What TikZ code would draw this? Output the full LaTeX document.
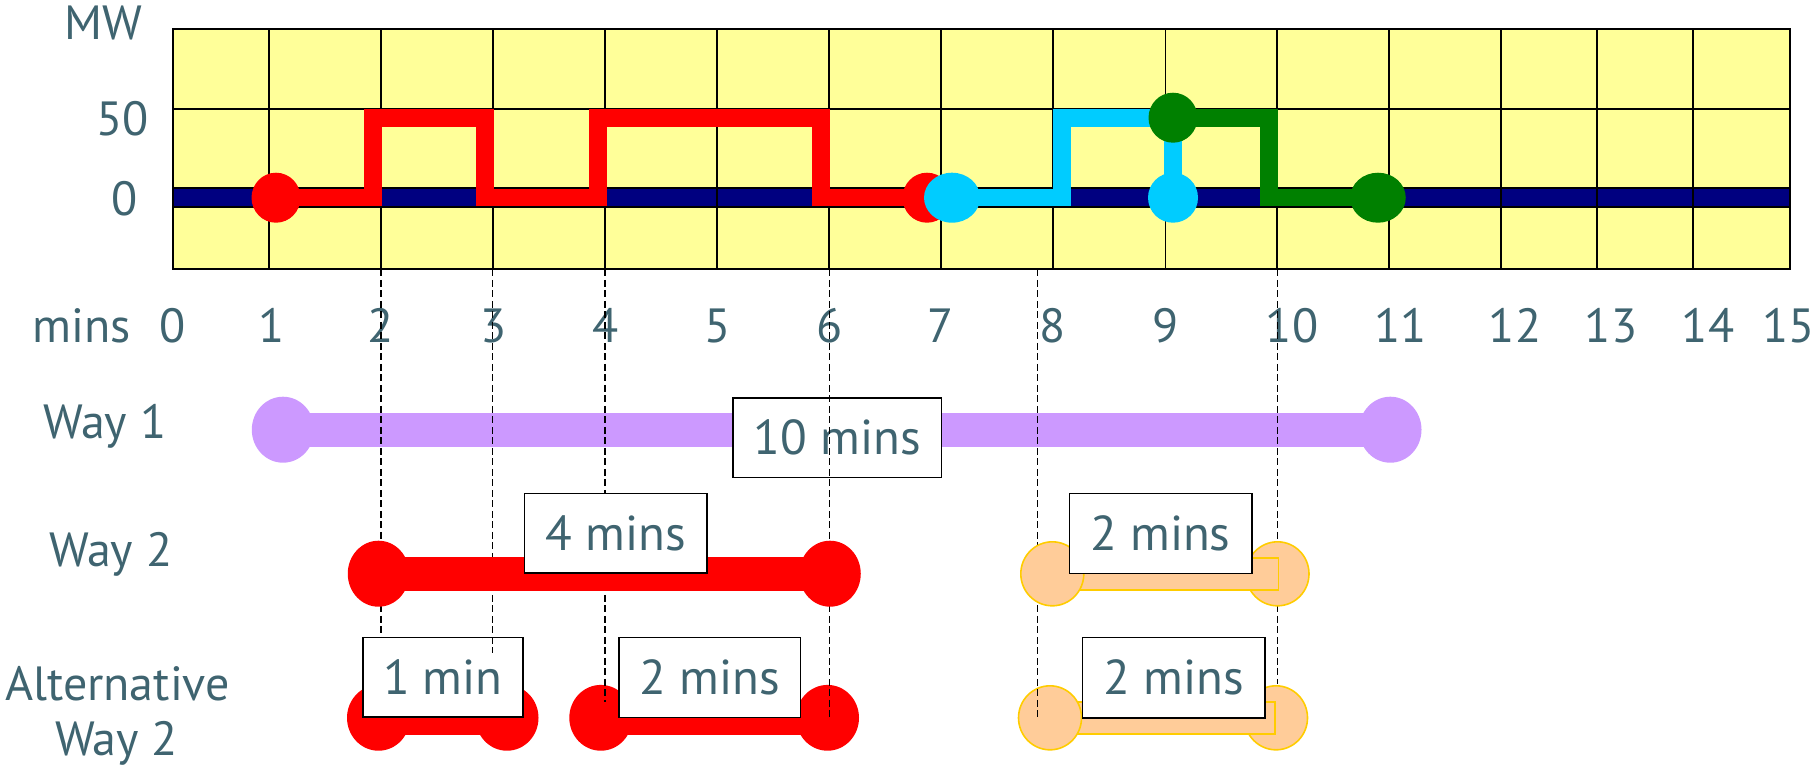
\documentclass[tikz,border=0pt]{standalone}
\usepackage{fontspec}
\setmainfont{PT Sans}
\usepackage{tikz}
\usetikzlibrary{shapes.geometric}
\definecolor{gridfill}{HTML}{FFFF99}
\definecolor{baseband}{HTML}{000080}
\definecolor{loadred}{HTML}{FF0000}
\definecolor{loadcyan}{HTML}{00CCFF}
\definecolor{loadgreen}{HTML}{008000}
\definecolor{lilac}{HTML}{CC99FF}
\definecolor{peach}{HTML}{FFCC99}
\definecolor{gold}{HTML}{FFCC00}
\definecolor{slate}{HTML}{3F6470}

\tikzset{
  lbl/.style={text=slate,font=\fontsize{24}{28}\selectfont,inner sep=0pt,anchor=base},
  minsbox/.style={draw=black,fill=white,line width=0.8pt,inner sep=0pt,text=slate,
    font=\fontsize{24.5}{28}\selectfont},
  dot/.style={ellipse,inner sep=0pt,draw=none},
  peachdot/.style={ellipse,inner sep=0pt,fill=peach,draw=gold,line width=0.8pt,
    minimum width=31.5pt,minimum height=32pt},
  guide/.style={black,line width=0.75pt,dash pattern=on 3.5pt off 1.75pt},
  loadline/.style={line width=8.75pt,line join=miter},
  waybar/.style={line width=17pt},
}

\begin{document}
\begin{tikzpicture}[x=0.5pt,y=-0.5pt]
\useasboundingbox (0,0) rectangle (1813,772);

% grid
\fill[gridfill] (172.8,29.3) rectangle (1790.3,269.3);
\fill[baseband] (172.8,188.3) rectangle (1790.3,206.7);
\foreach \x in {268.9,380.8,492.7,605,716.6,829.3,940.8,1053.1,1165.4,1277,1389.2,1501,1597,1693.3}
  \draw[line width=0.9pt] (\x,29.3) -- (\x,269.3);
\foreach \y in {109.3,188.3,206.7}
  \draw[line width=0.9pt] (172.8,\y) -- (1790.3,\y);
\draw[line width=1.1pt] (172.8,29.3) rectangle (1790.3,269.3);

% axis labels
\node[lbl] (mw) at (103.5,39.3) {MW};
\node[lbl] (y50) at (122.5,135) {50};
\node[lbl] (y0) at (125,215) {0};
\node[lbl] (mins) at (82,342.7) {mins};
\foreach \x/\t in {172.6/0,272/1,380.6/2,493.8/3,606/4,718/5,830/6,941/7,1053/8,1166/9,
  1292/10,1400.6/11,1515/12,1611/13,1708/14,1788.6/15}
  \node[lbl] (tick\t) at (\x,342.7) {\t};

% load profile
\draw[loadline,loadred] (276,197.5) -- (373,197.5) -- (373,118) -- (485,118) -- (485,197.5)
  -- (598,197.5) -- (598,118) -- (821,118) -- (821,197.5) -- (927,197.5);
\node[dot,fill=loadred,minimum width=24.5pt,minimum height=25pt] (r0) at (276,197.7) {};
\node[dot,fill=loadred,minimum width=24.5pt,minimum height=25pt] (r1) at (927,197.7) {};
\draw[loadline,loadcyan] (952,197.5) -- (1062,197.5) -- (1062,118) -- (1173,118) -- (1173,197.5);
\node[dot,fill=loadcyan,minimum width=28pt,minimum height=25pt] (c0) at (952,197.7) {};
\node[dot,fill=loadcyan,minimum width=25pt,minimum height=25pt] (c1) at (1173,197.7) {};
\draw[loadline,loadgreen] (1173,118) -- (1269,118) -- (1269,197.5) -- (1378,197.5);
\node[dot,fill=loadgreen,minimum width=24.5pt,minimum height=25pt] (g0) at (1173,117.7) {};
\node[dot,fill=loadgreen,minimum width=27.75pt,minimum height=25pt] (g1) at (1378,197.7) {};

% row labels
\node[lbl] (way1) at (104.8,438.3) {Way 1};
\node[lbl] (way2) at (110.7,566.7) {Way 2};
\node[lbl] (alt) at (117.5,700) {Alternative};
\node[lbl] (altway) at (116.5,755) {Way 2};

% way 1
\coordinate (w1a) at (283,429.7);
\coordinate (w1b) at (1390.3,429.7);
\draw[waybar,lilac] (w1a) -- (w1b);
\node[dot,fill=lilac,minimum width=31.2pt,minimum height=33pt] (w1l) at (w1a) {};
\node[dot,fill=lilac,minimum width=31.2pt,minimum height=33pt] (w1r) at (w1b) {};
\node[minsbox,minimum width=104.25pt,minimum height=39.8pt] (b10) at (837.3,437.5) {10 mins};

% alternative way 2
\coordinate (a1a) at (378.5,717.8);
\coordinate (a1b) at (507,717.8);
\coordinate (a2a) at (600.8,717.8);
\coordinate (a2b) at (827.5,717.8);
\draw[waybar,loadred] (a1a) -- (a1b);
\draw[waybar,loadred] (a2a) -- (a2b);
\foreach \p in {a1a,a1b,a2a,a2b}
  \node[dot,fill=loadred,minimum width=31.5pt,minimum height=32.9pt] (\p dot) at (\p) {};
\node[minsbox,minimum width=79.85pt,minimum height=39.7pt] (b1) at (442.9,677) {1 min};
\node[minsbox,minimum width=90.85pt,minimum height=39.9pt] (b2r) at (709.8,677.4) {2 mins};
\node[peachdot] (o2r) at (1276,717.8) {};
\draw[fill=peach,draw=gold,line width=0.8pt] (1050,701.7) rectangle (1275,734);
\node[peachdot] (o2l) at (1050,717.8) {};
\node[minsbox,minimum width=91.15pt,minimum height=40.2pt] (b2p) at (1173.8,677.5) {2 mins};

% guide lines
\foreach \x/\y in {380.8/637,492.7/653,605/701.7,829.3/718,1037.3/718,1277.3/684}
  \draw[guide] (\x,269.3) -- (\x,\y);

% way 2
\coordinate (w2a) at (378.5,573.7);
\coordinate (w2b) at (830,573.7);
\draw[waybar,loadred] (w2a) -- (w2b);
\node[dot,fill=loadred,minimum width=30.75pt,minimum height=33pt] (w2l) at (w2a) {};
\node[dot,fill=loadred,minimum width=30.75pt,minimum height=33pt] (w2r) at (w2b) {};
\node[minsbox,minimum width=91.15pt,minimum height=39.7pt] (b4) at (615.8,533) {4 mins};
\node[peachdot] (o1r) at (1277.5,573.8) {};
\draw[fill=peach,draw=gold,line width=0.8pt] (1052.3,557.7) rectangle (1278.3,590);
\node[peachdot] (o1l) at (1052.3,573.8) {};
\node[minsbox,minimum width=91.2pt,minimum height=40pt] (b2o) at (1160.5,533.3) {2 mins};
\end{tikzpicture}
\end{document}
